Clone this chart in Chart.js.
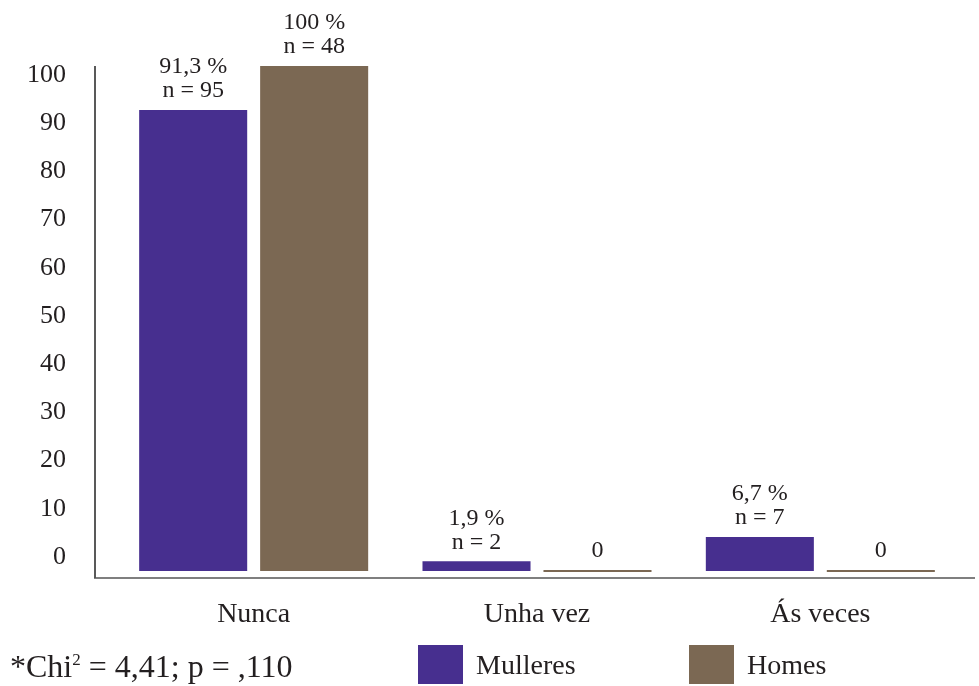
<!DOCTYPE html>
<html>
<head>
<meta charset="utf-8">
<script src="https://cdn.jsdelivr.net/npm/chart.js@4.4.1/dist/chart.umd.min.js"></script>
<style>
  html, body { margin: 0; padding: 0; background: #fff; }
  #wrap { position: relative; width: 979px; height: 686px; font-family: "Liberation Serif", serif; color: #231f20; }
  #wrap canvas { position: absolute; left: 0; top: 0; }
  .note { position: absolute; left: 10px; top: 646px; font-size: 32px; line-height: 40px; white-space: nowrap; }
  .note sup { font-size: 17px; vertical-align: 12px; line-height: 0; }
  .key { position: absolute; top: 645px; height: 39px; display: flex; align-items: center; font-size: 28px; white-space: nowrap; }
  .key span.box { display: inline-block; width: 45px; height: 39px; margin-right: 13px; }
</style>
</head>
<body>
<div id="wrap">
  <canvas id="chart" width="979" height="686"></canvas>
  <div class="note">*Chi<sup>2</sup> = 4,41; p = ,110</div>
  <div class="key" id="key1" style="left:418px"></div>
  <div class="key" id="key2" style="left:689px"></div>
</div>
<script>
const categories = ["Nunca", "Unha vez", "Ás veces"];
const seriesNames = ["Mulleres", "Homes"];
const mullerPct = [91.3, 1.9, 6.7];
const homePct = [100, 0, 0];
const mullerN = [95, 2, 7];
const homeN = [48, 0, 0];
const yTicks = [0, 10, 20, 30, 40, 50, 60, 70, 80, 90, 100];
const colors = ["#472f8f", "#7b6853"];

const counts = [mullerN, homeN];

function pctText(v) {
  if (v === 0) return "0";
  return (Number.isInteger(v) ? String(v) : v.toFixed(1).replace(".", ",")) + " %";
}

const barLabels = {
  id: "barLabels",
  afterDatasetsDraw(chart) {
    const ctx = chart.ctx;
    ctx.save();
    ctx.fillStyle = "#231f20";
    ctx.font = "24px 'Liberation Serif', serif";
    ctx.textAlign = "center";
    ctx.textBaseline = "middle";
    chart.data.datasets.forEach((ds, di) => {
      chart.getDatasetMeta(di).data.forEach((bar, i) => {
        const v = ds.data[i];
        const lines = v === 0 ? ["0"] : [pctText(v), "n = " + counts[di][i]];
        const top = Math.min(bar.y, bar.base);
        lines.reverse().forEach((t, k) => ctx.fillText(t, bar.x, top - 19 - k * 24));
      });
    });
    ctx.restore();
  }
};

// axis lines of the original sit a little outside the plot area
const axisLines = {
  id: "axisLines",
  afterDraw(chart) {
    const { ctx, chartArea: a } = chart;
    ctx.save();
    ctx.lineWidth = 1.5;
    ctx.strokeStyle = "#222";
    ctx.beginPath();
    ctx.moveTo(a.left - 17, a.top);
    ctx.lineTo(a.left - 17, a.bottom);
    ctx.stroke();
    ctx.strokeStyle = "#555";
    ctx.beginPath();
    ctx.moveTo(a.left - 18, a.bottom);
    ctx.lineTo(a.right + 13, a.bottom);
    ctx.stroke();
    ctx.restore();
  }
};

new Chart(document.getElementById("chart"), {
  type: "bar",
  data: {
    labels: categories,
    datasets: [
      { label: seriesNames[0], data: mullerPct, backgroundColor: colors[0] },
      { label: seriesNames[1], data: homePct, backgroundColor: colors[1] }
    ]
  },
  options: {
    responsive: false,
    animation: false,
    events: [],
    layout: { padding: { top: 66, right: 17, bottom: 38, left: 27 } },
    datasets: { bar: { categoryPercentage: 0.854, barPercentage: 0.893, minBarLength: 2 } },
    plugins: { legend: { display: false }, tooltip: { enabled: false } },
    scales: {
      x: {
        grid: { display: false, drawTicks: false },
        border: { display: false },
        afterFit(scale) { scale.height = 70; },
        ticks: { color: "#231f20", padding: 20, font: { family: "'Liberation Serif', serif", size: 28 } }
      },
      y: { display: false, min: -1.4, max: 100 },
      yl: {
        position: "left",
        min: -4.36,
        max: 101.87,
        grid: { display: false, drawTicks: false },
        border: { display: false },
        afterFit(scale) { scale.width = 85; },
        afterBuildTicks(scale) { scale.ticks = yTicks.map(v => ({ value: v })); },
        ticks: { color: "#231f20", padding: 46, font: { family: "'Liberation Serif', serif", size: 26 } }
      }
    }
  },
  plugins: [barLabels, axisLines]
});

[document.getElementById("key1"), document.getElementById("key2")].forEach((el, i) => {
  el.innerHTML = '<span class="box" style="background:' + colors[i] + '"></span>' + seriesNames[i];
});
</script>
</body>
</html>
